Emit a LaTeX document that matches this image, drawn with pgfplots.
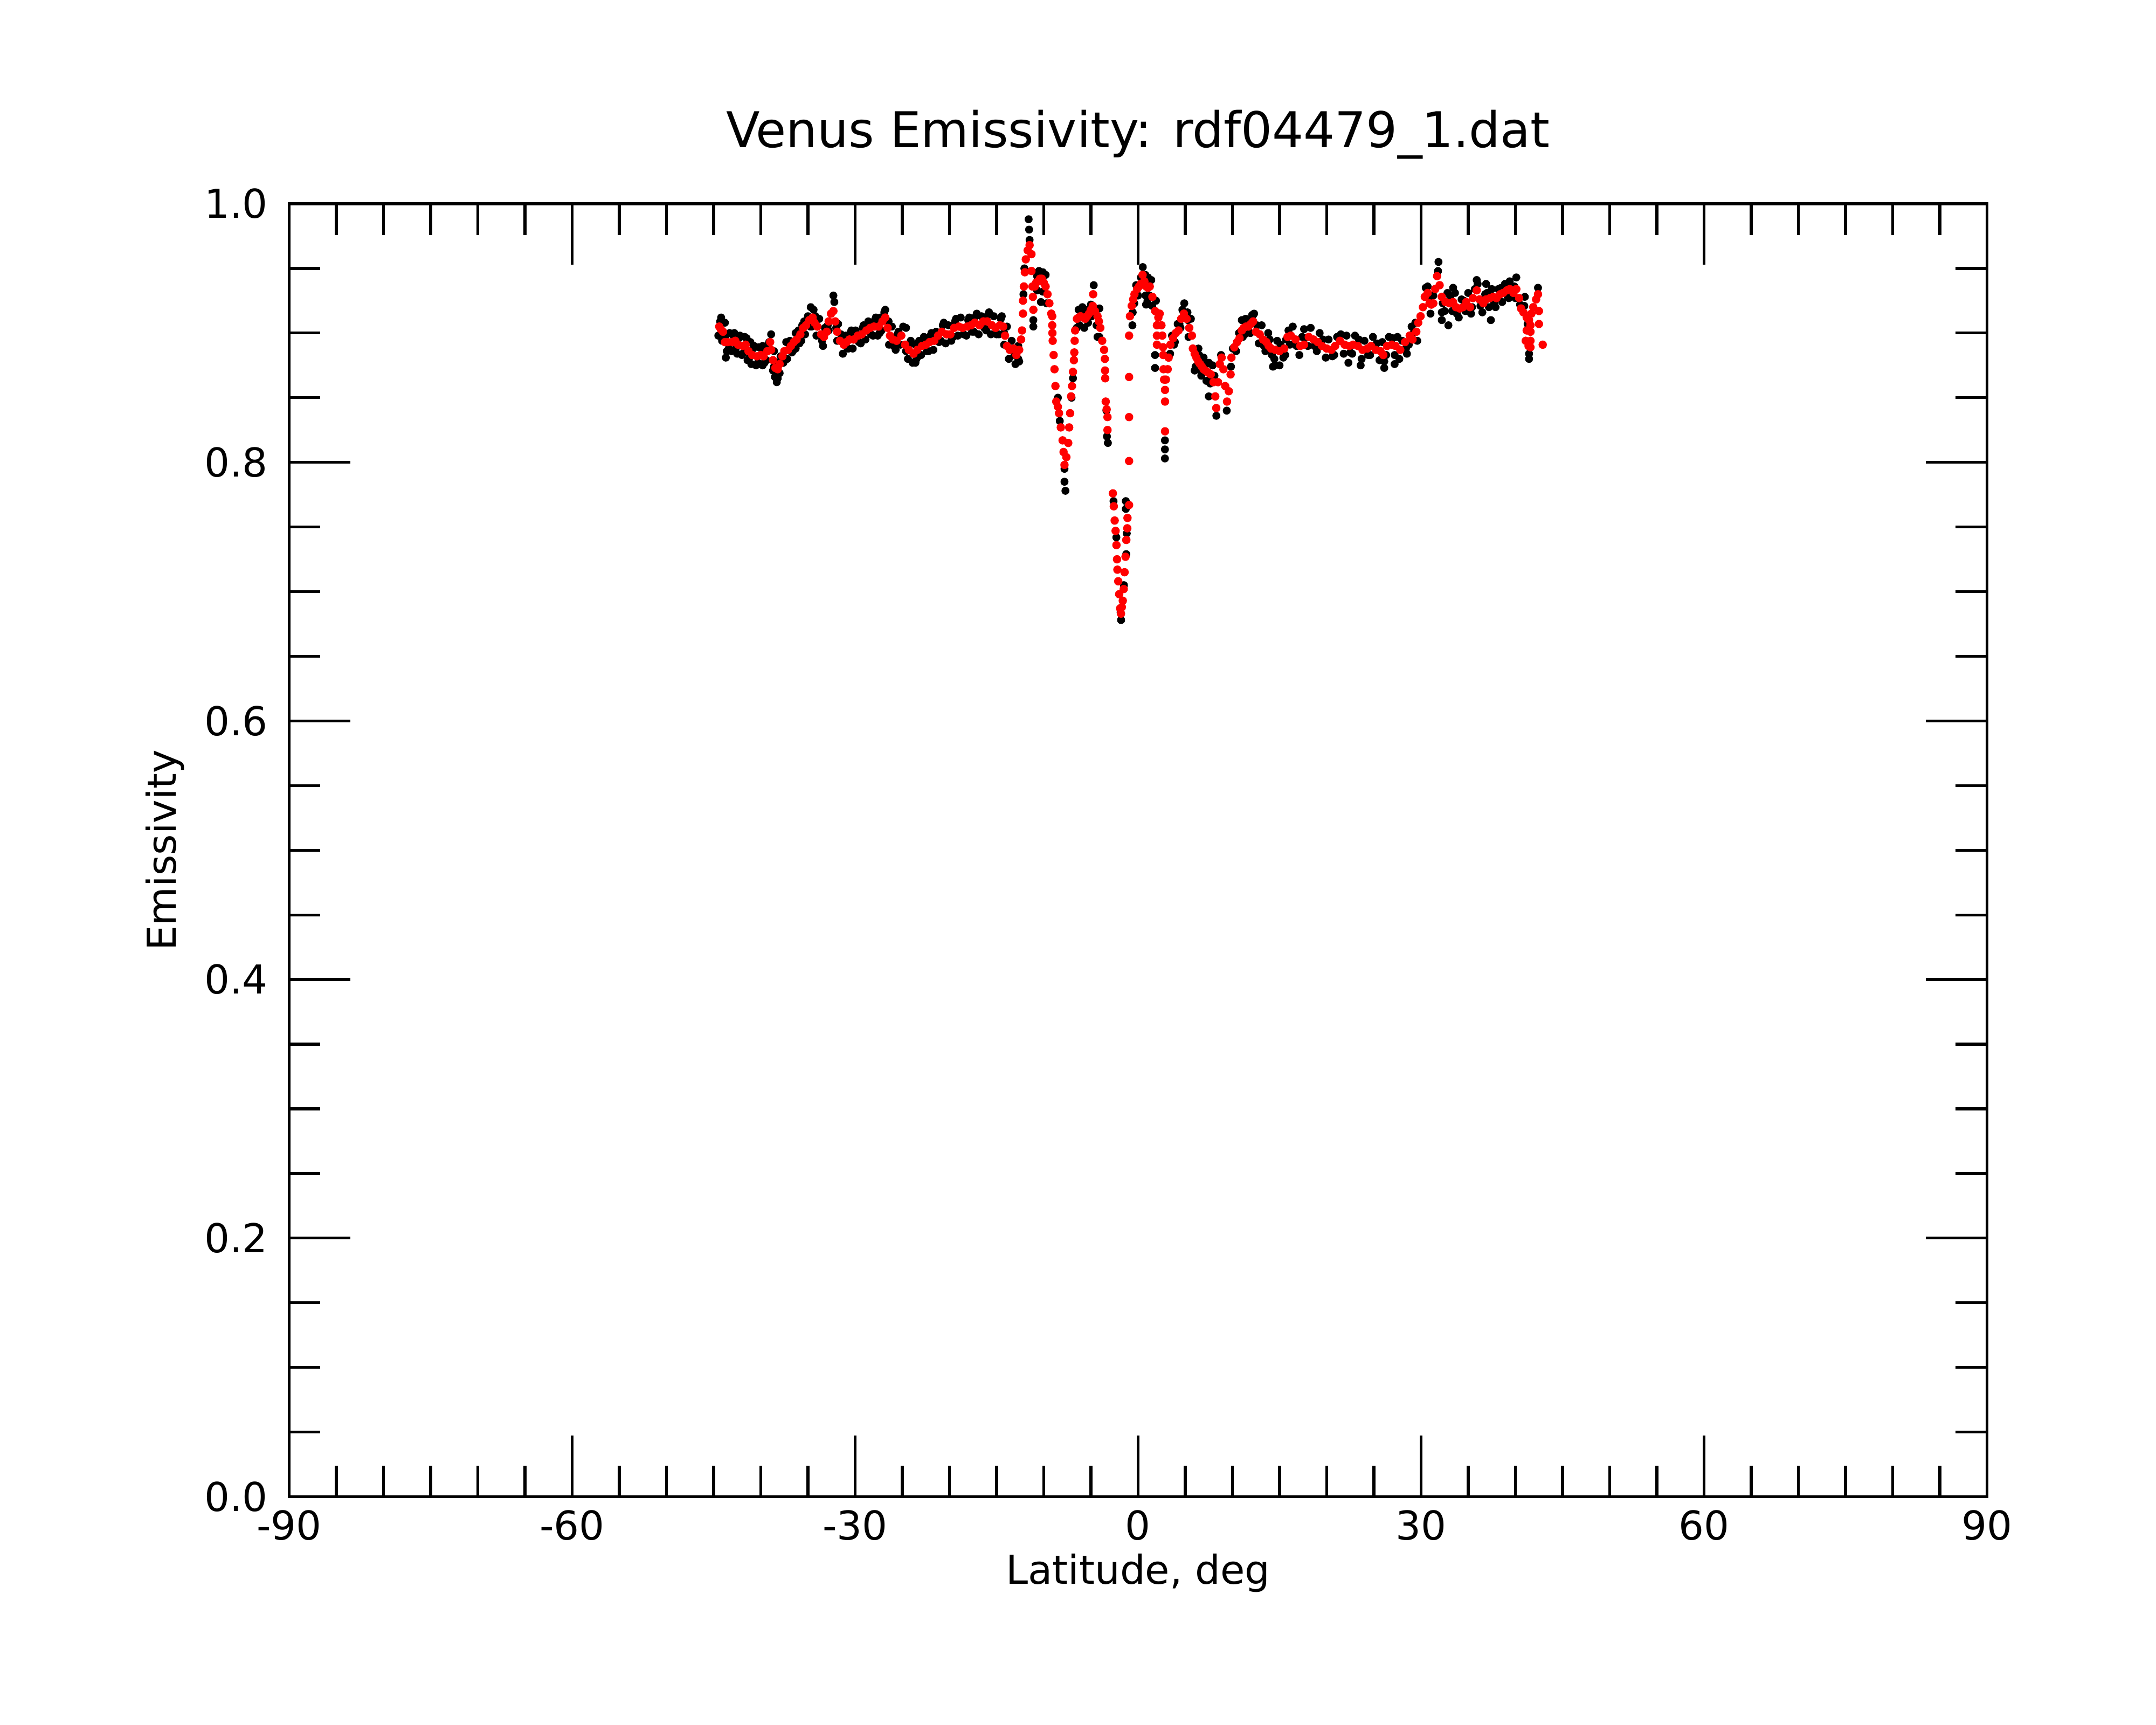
\documentclass[border=0pt]{standalone}
\usepackage{fontspec}
\setmainfont{DejaVu Sans}
\usepackage{pgfplots}
\pgfplotsset{compat=1.18}
\begin{document}
\begin{tikzpicture}
\useasboundingbox (-2.682cm,-2.117cm) rectangle (17.318cm,13.883cm);
\begin{axis}[
  at={(0,0)}, anchor=south west,
  scale only axis, width=15.75cm, height=11.993cm,
  xmin=-90, xmax=90, ymin=0, ymax=1,
  xtick={-90,-60,-30,0,30,60,90},
  xticklabels={-90,-60,-30,0,30,60,90},
  ytick={0,0.2,0.4,0.6,0.8,1},
  yticklabels={0.0,0.2,0.4,0.6,0.8,1.0},
  minor x tick num=5, minor y tick num=3,
  tick align=inside,
  major tick length=0.567cm, minor tick length=0.29cm,
  every tick/.append style={line width=0.75pt, black},
  axis line style={line width=0.75pt},
  tick label style={font=\fontsize{10.5}{12}\selectfont},
  yticklabel style={xshift=-0.075cm},
  title={Venus Emissivity: rdf04479\_1.dat},
  title style={at={(axis description cs:0.5,1.0258)}, anchor=base, font=\fontsize{13}{15}\selectfont},
  xlabel={Latitude, deg},
  xlabel style={at={(axis description cs:0.5,-0.0676)}, anchor=base, font=\fontsize{10.5}{12}\selectfont},
  ylabel={Emissivity},
  ylabel style={at={(axis description cs:-0.0665,0.5)}, rotate=0, anchor=base, font=\fontsize{10.5}{12}\selectfont},
  clip=false,
]
% black: raw samples
\addplot[only marks, mark=*, mark size=0.85pt, color=black] coordinates {
(-44.2,0.912) (-44.5,0.898) (-43.8,0.908) (-44.1,0.894) (-43.3,0.900) (-43.6,0.886)
(-42.8,0.900) (-43.1,0.886) (-42.2,0.898) (-42.5,0.884) (-41.7,0.897) (-42.0,0.883)
(-41.1,0.893) (-41.4,0.879) (-40.7,0.890) (-41.0,0.876) (-40.2,0.889) (-40.5,0.875)
(-39.8,0.890) (-40.1,0.876) (-39.5,0.889) (-39.8,0.875) (-39.1,0.893) (-39.4,0.879)
(-38.9,0.899) (-38.6,0.886) (-38.7,0.871) (-38.5,0.866) (-38.2,0.865) (-37.9,0.882)
(-38.0,0.869) (-37.3,0.893) (-37.6,0.879) (-36.9,0.894) (-37.2,0.880) (-36.3,0.900)
(-36.6,0.886) (-36.0,0.902) (-36.3,0.888) (-35.6,0.906) (-35.9,0.892) (-35.0,0.913)
(-35.3,0.899) (-34.4,0.918) (-34.6,0.905) (-33.8,0.911) (-34.1,0.898) (-33.2,0.904)
(-33.4,0.890) (-32.8,0.902) (-32.2,0.924) (-31.8,0.907) (-31.9,0.894) (-31.0,0.898)
(-31.3,0.884) (-30.4,0.902) (-30.7,0.888) (-29.95,0.902) (-30.25,0.888) (-29.1,0.906)
(-29.4,0.892) (-28.6,0.909) (-28.9,0.895) (-27.8,0.912) (-28.1,0.898) (-27.3,0.912)
(-27.6,0.898) (-26.9,0.916) (-27.2,0.902) (-26.1,0.905) (-26.4,0.891) (-25.4,0.901)
(-25.7,0.887) (-24.9,0.905) (-25.2,0.891) (-24.1,0.894) (-24.4,0.880) (-23.6,0.891)
(-23.9,0.877) (-23.2,0.894) (-23.5,0.880) (-22.7,0.897) (-23.0,0.883) (-21.9,0.900)
(-22.2,0.886) (-21.4,0.901) (-21.7,0.887) (-20.6,0.908) (-20.9,0.894) (-20.1,0.906)
(-20.4,0.892) (-19.3,0.911) (-19.6,0.897) (-18.8,0.912) (-19.1,0.898) (-17.9,0.912)
(-18.2,0.898) (-17.1,0.915) (-17.4,0.901) (-16.6,0.913) (-16.9,0.899) (-15.8,0.916)
(-16.1,0.902) (-15.3,0.913) (-15.6,0.899) (-14.45,0.913) (-14.75,0.899) (-13.9,0.905)
(-14.2,0.891) (-13.4,0.894) (-13.7,0.880) (-12.7,0.890) (-13.0,0.876) (-12.7,0.880)
(-10.4,0.947) (-10.7,0.933) (-9.8,0.945) (-10.1,0.932) (-9.7,0.923)
(-6.3,0.918) (-6.5,0.904) (-5.9,0.920) (-6.2,0.906) (-5.4,0.918) (-5.7,0.904)
(-5.0,0.922) (-5.3,0.908) (-4.1,0.919) (-4.4,0.906) (-4.1,0.897)
(-0.2,0.937) (-0.4,0.923) (0.3,0.943) (0.0,0.929) (1.05,0.943) (0.8,0.929)
(1.4,0.941) (1.2,0.929) (1.5,0.921)
(3.6,0.898) (3.4,0.884) (4.2,0.907) (3.9,0.893) (4.7,0.918) (4.5,0.904)
(5.6,0.911) (5.35,0.897) (6.4,0.888) (6.1,0.874) (6.95,0.881) (6.7,0.867)
(7.5,0.877) (7.25,0.863) (7.9,0.875) (7.65,0.861) (8.8,0.883) (10.05,0.888)
(9.85,0.874) (10.7,0.900) (10.4,0.886) (11.4,0.911) (11.1,0.897) (12.1,0.914)
(11.9,0.900) (13.1,0.906) (12.8,0.892) (13.8,0.900) (13.5,0.886) (14.75,0.894)
(14.45,0.880) (15.7,0.895) (15.4,0.881) (16.4,0.905) (16.1,0.891) (17.4,0.897)
(17.1,0.883) (18.3,0.904) (18.0,0.890) (19.25,0.900) (18.95,0.886) (20.2,0.895)
(19.9,0.881) (21.1,0.897) (20.8,0.883) (22.1,0.898) (21.8,0.884) (23.0,0.898)
(22.7,0.884) (24.0,0.894) (23.7,0.880) (24.9,0.897) (24.6,0.883) (25.9,0.893)
(25.6,0.879) (26.6,0.897) (26.3,0.883) (27.5,0.897) (27.2,0.883) (28.0,0.894)
(27.7,0.880) (29.0,0.905) (28.7,0.891) (29.4,0.908) (29.6,0.894) (30.5,0.935)
(31.3,0.929) (31.0,0.915) (32.8,0.931) (32.5,0.917) (33.6,0.931) (33.3,0.917)
(34.3,0.926) (34.0,0.912) (35.0,0.931) (34.7,0.917) (35.7,0.934) (35.4,0.920)
(36.8,0.930) (36.5,0.916) (37.5,0.934) (37.2,0.920) (38.2,0.934) (37.9,0.920)
(38.9,0.938) (38.6,0.924) (39.3,0.927) (40.0,0.927)
(-44.3,0.909) (-43.7,0.881) (-38.3,0.862) (-34.7,0.920) (-32.3,0.929) (-26.8,0.918)
(-24.6,0.904) (-23.6,0.877) (-12.6,0.878) (-11.6,0.988) (-11.55,0.980) (-11.5,0.972)
(-10.5,0.948) (-11.1,0.910) (-11.1,0.905) (-10.3,0.924) (-7.8,0.785) (-7.7,0.778)
(-7.8,0.795) (-4.7,0.937) (-3.35,0.840) (-3.3,0.820) (-3.2,0.815) (-4.3,0.897)
(-1.3,0.770) (-1.3,0.764) (-1.25,0.740) (-1.25,0.729) (-1.8,0.678) (-1.85,0.684)
(0.5,0.951) (-0.6,0.906) (0.85,0.922) (1.0,0.925) (1.9,0.925) (1.8,0.883)
(1.8,0.873) (2.85,0.817) (2.85,0.810) (2.85,0.803) (4.9,0.923) (5.3,0.910)
(6.0,0.871) (7.5,0.851) (8.3,0.836) (9.4,0.840) (12.3,0.915) (14.5,0.875)
(11.0,0.910) (12.2,0.914) (14.3,0.874) (15.0,0.875) (17.6,0.903) (22.3,0.877)
(23.6,0.875) (26.1,0.873) (27.2,0.876) (28.5,0.884) (30.7,0.936) (31.85,0.955)
(31.8,0.948) (32.2,0.916) (32.2,0.910) (32.9,0.906) (33.4,0.935) (35.9,0.941)
(37.4,0.910) (36.9,0.938) (40.1,0.943) (39.4,0.940) (41.45,0.884) (41.45,0.880)
(42.4,0.935) (41.0,0.928)
(-44.14,0.908) (-43.9,0.896) (-43.7,0.898) (-43.4,0.888) (-42.9,0.898) (-42.6,0.889)
(-42.3,0.896) (-41.8,0.885) (-41.5,0.896) (-41.2,0.881) (-40.8,0.888) (-40.3,0.877)
(-39.9,0.888) (-39.6,0.877) (-39.2,0.891) (-38.6,0.874) (-38.1,0.877) (-37.6,0.877)
(-37.0,0.892) (-36.7,0.885) (-36.1,0.900) (-35.7,0.894) (-35.4,0.909) (-34.75,0.905)
(-34.2,0.913) (-33.5,0.894) (-32.9,0.906) (-32.0,0.904) (-31.5,0.899) (-30.8,0.888)
(-30.5,0.900) (-29.6,0.893) (-29.2,0.904) (-28.3,0.899) (-27.9,0.910) (-27.4,0.900)
(-26.45,0.909) (-25.9,0.890) (-25.5,0.899) (-24.6,0.886) (-24.2,0.892) (-23.3,0.882)
(-22.8,0.895) (-22.4,0.886) (-22.0,0.898) (-21.1,0.893) (-20.7,0.906) (-19.8,0.894)
(-19.4,0.909) (-18.5,0.899) (-18.0,0.910) (-17.6,0.901) (-17.2,0.913) (-16.3,0.904)
(-15.9,0.914) (-15.0,0.899) (-14.55,0.911) (-14.2,0.900) (-13.1,0.883) (-12.8,0.888)
(11.3,0.899) (11.8,0.910) (12.6,0.906) (13.35,0.890) (13.95,0.895) (14.2,0.883)
(15.1,0.891) (15.6,0.883) (15.95,0.902) (16.8,0.890) (17.7,0.896) (18.7,0.890)
(19.6,0.895) (20.6,0.882) (21.5,0.899) (22.5,0.885) (23.4,0.895) (24.4,0.883)
(25.3,0.892) (26.1,0.878) (27.0,0.896) (28.4,0.888) (29.2,0.900) (31.0,0.928)
(32.3,0.923) (33.1,0.928) (33.8,0.915) (34.55,0.925) (35.3,0.915) (36.0,0.938)
(36.3,0.921) (37.0,0.931) (37.75,0.923) (38.5,0.935) (39.2,0.928) (39.9,0.936)
(40.5,0.922) (40.95,0.921) (41.3,0.907)
(6.48,0.883) (6.67,0.871) (7.24,0.876) (7.62,0.864) (8.1,0.867) (5.24,0.916)
(3.81,0.891) (4.39,0.907) (-5.75,0.917) (-4.9,0.913) (-10.1,0.947) (-10.7,0.944)
(0.77,0.945) (-0.57,0.916)
(-8.5,0.850) (-8.3,0.832) (-7.05,0.850) (-6.9,0.865) (-2.6,0.770) (-2.3,0.742)
(-1.5,0.705) (-1.2,0.745) (-12.15,0.930) (-12.05,0.950)
};
% red: smoothed samples
\addplot[only marks, mark=*, mark size=0.9pt, color=red] coordinates {
(-44.4,0.905) (-44.24,0.903) (-44.0,0.901) (-43.8,0.893) (-43.5,0.893) (-43.0,0.893)
(-42.7,0.894) (-42.4,0.891) (-41.9,0.890) (-41.6,0.891) (-41.3,0.886) (-40.9,0.883)
(-40.4,0.882) (-40.0,0.883) (-39.7,0.882) (-39.3,0.886) (-39.0,0.893) (-38.9,0.887)
(-38.7,0.879) (-38.45,0.873) (-38.2,0.872) (-38.0,0.876) (-37.7,0.882) (-37.5,0.886)
(-37.1,0.887) (-36.8,0.890) (-36.5,0.893) (-36.2,0.895) (-35.8,0.899) (-35.5,0.904)
(-35.2,0.906) (-34.85,0.910) (-34.5,0.912) (-34.3,0.908) (-34.0,0.905) (-33.6,0.899)
(-33.3,0.897) (-33.0,0.901) (-32.8,0.909) (-32.55,0.915) (-32.3,0.917) (-32.1,0.909)
(-31.9,0.901) (-31.6,0.894) (-31.2,0.891) (-30.9,0.893) (-30.6,0.895) (-30.15,0.895)
(-29.7,0.898) (-29.3,0.899) (-28.8,0.902) (-28.4,0.904) (-28.0,0.905) (-27.5,0.905)
(-27.1,0.909) (-26.8,0.912) (-26.55,0.904) (-26.3,0.898) (-26.0,0.895) (-25.6,0.894)
(-25.1,0.898) (-24.7,0.891) (-24.3,0.887) (-23.8,0.884) (-23.4,0.887) (-22.9,0.890)
(-22.5,0.891) (-22.1,0.893) (-21.6,0.894) (-21.2,0.898) (-20.8,0.901) (-20.3,0.899)
(-19.9,0.899) (-19.5,0.904) (-19.0,0.905) (-18.6,0.904) (-18.1,0.905) (-17.7,0.906)
(-17.3,0.908) (-16.8,0.906) (-16.4,0.909) (-16.0,0.909) (-15.5,0.906) (-15.1,0.904)
(-14.65,0.906) (-14.3,0.905) (-14.1,0.898) (-13.9,0.890) (-13.6,0.887) (-13.2,0.888)
(-12.9,0.883) (-12.6,0.887) (-12.4,0.895)
(-12.3,0.902) (-12.2,0.915) (-12.2,0.925) (-12.1,0.936) (-12.0,0.947) (-11.9,0.957)
(-11.7,0.964) (-11.5,0.968) (-11.3,0.961) (-11.3,0.948) (-11.2,0.936) (-11.15,0.928)
(-11.1,0.918) (-10.95,0.936) (-10.8,0.939) (-10.6,0.940) (-10.4,0.942) (-10.2,0.942)
(-10.0,0.939) (-9.8,0.936) (-9.6,0.930) (-9.4,0.923) (-9.2,0.915) (-9.1,0.913)
(-9.1,0.906) (-9.08,0.900) (-9.05,0.894) (-8.95,0.883) (-8.86,0.872) (-8.76,0.859)
(-8.67,0.847) (-8.5,0.843) (-8.38,0.838) (-8.19,0.827) (-8.0,0.817) (-7.9,0.808)
(-7.8,0.798) (-7.6,0.804) (-7.4,0.815) (-7.3,0.827) (-7.2,0.838) (-7.1,0.851)
(-7.0,0.859) (-6.9,0.870) (-6.8,0.879) (-6.76,0.885) (-6.72,0.894) (-6.67,0.902)
(-6.48,0.911) (-6.3,0.912) (-6.1,0.913) (-5.85,0.912) (-5.6,0.911) (-5.4,0.913)
(-5.2,0.915) (-5.0,0.918) (-4.8,0.921) (-4.76,0.930) (-4.57,0.917) (-4.3,0.913)
(-4.15,0.909) (-4.0,0.904) (-3.8,0.894) (-3.6,0.887) (-3.52,0.880) (-3.5,0.871)
(-3.48,0.865) (-3.43,0.847) (-3.33,0.841) (-3.24,0.835) (-3.24,0.825)
(-2.67,0.776) (-2.57,0.766) (-2.48,0.755) (-2.38,0.747) (-2.29,0.736) (-2.23,0.725)
(-2.19,0.717) (-2.1,0.708) (-2.0,0.698) (-1.9,0.687) (-1.81,0.683) (-1.72,0.688)
(-1.62,0.693) (-1.52,0.702) (-1.43,0.715) (-1.33,0.727) (-1.24,0.740) (-1.14,0.749)
(-1.12,0.757) (-0.95,0.767) (-0.95,0.801) (-0.95,0.835) (-0.95,0.866) (-0.95,0.898)
(-0.86,0.913) (-0.67,0.921) (-0.52,0.926) (-0.38,0.930) (-0.1,0.934) (0.1,0.936)
(0.29,0.938) (0.48,0.945) (0.67,0.940) (0.86,0.936) (1.05,0.935) (1.24,0.936)
(1.52,0.928) (1.81,0.917) (2.0,0.906) (2.0,0.898) (2.0,0.891) (2.15,0.912)
(2.29,0.915) (2.48,0.906) (2.57,0.898) (2.65,0.889) (2.67,0.883) (2.7,0.872)
(2.76,0.864) (2.86,0.856) (2.86,0.847) (2.86,0.824) (2.95,0.864) (3.14,0.872)
(3.24,0.881) (3.43,0.891) (3.71,0.896) (4.0,0.900) (4.29,0.902) (4.57,0.911)
(4.86,0.915) (5.14,0.911) (5.43,0.904) (5.71,0.898) (5.81,0.888) (6.0,0.884)
(6.19,0.881) (6.38,0.878) (6.57,0.876) (6.76,0.874) (6.95,0.872) (7.14,0.871)
(7.33,0.870) (7.52,0.869) (7.71,0.868) (8.0,0.862) (8.19,0.851) (8.29,0.842)
(8.48,0.862) (8.67,0.876) (8.86,0.881) (9.05,0.872) (9.24,0.859) (9.43,0.847)
(9.62,0.855) (9.81,0.868) (9.9,0.881) (10.2,0.889) (10.5,0.893) (10.76,0.896)
(11.0,0.902) (11.2,0.904) (11.45,0.905) (11.7,0.905) (11.95,0.907) (12.2,0.909)
(12.5,0.901) (12.9,0.899) (13.25,0.895) (13.6,0.893) (13.85,0.890) (14.1,0.888)
(14.55,0.887) (15.0,0.886) (15.5,0.888) (15.85,0.897) (16.2,0.898) (16.7,0.895)
(17.2,0.890) (17.6,0.891) (18.1,0.897) (18.6,0.895) (19.05,0.893) (19.5,0.890)
(20.0,0.888) (20.5,0.887) (20.9,0.890) (21.4,0.894) (21.9,0.891) (22.4,0.890)
(22.8,0.891) (23.3,0.890) (23.8,0.887) (24.3,0.888) (24.7,0.890) (25.2,0.887)
(25.7,0.886) (26.0,0.883) (26.4,0.890) (26.9,0.891) (27.3,0.890) (27.8,0.887)
(28.3,0.893) (28.8,0.898) (29.1,0.895) (29.5,0.901) (29.7,0.908) (29.95,0.913)
(30.2,0.920) (30.4,0.928) (30.7,0.931) (30.9,0.923) (31.1,0.922) (31.3,0.923)
(31.5,0.934) (31.7,0.944) (31.97,0.937) (32.2,0.928) (32.6,0.924) (33.0,0.923)
(33.4,0.924) (33.7,0.920) (34.1,0.919) (34.45,0.920) (34.8,0.924) (35.2,0.920)
(35.5,0.927) (35.9,0.933) (36.2,0.926) (36.6,0.923) (36.9,0.926) (37.3,0.927)
(37.65,0.928) (38.0,0.927) (38.4,0.930) (38.7,0.931) (39.1,0.933) (39.4,0.934)
(39.8,0.931) (40.1,0.934) (40.4,0.927) (40.6,0.919) (40.85,0.916) (41.2,0.912)
(41.45,0.910) (41.7,0.915) (41.9,0.920) (42.2,0.926) (42.4,0.930) (42.5,0.917)
(42.5,0.907) (42.9,0.891)
(41.6,0.906) (41.6,0.901) (41.6,0.894) (41.6,0.889) (41.2,0.902) (41.1,0.894)
(41.4,0.890)
};
\end{axis}
\end{tikzpicture}
\end{document}
